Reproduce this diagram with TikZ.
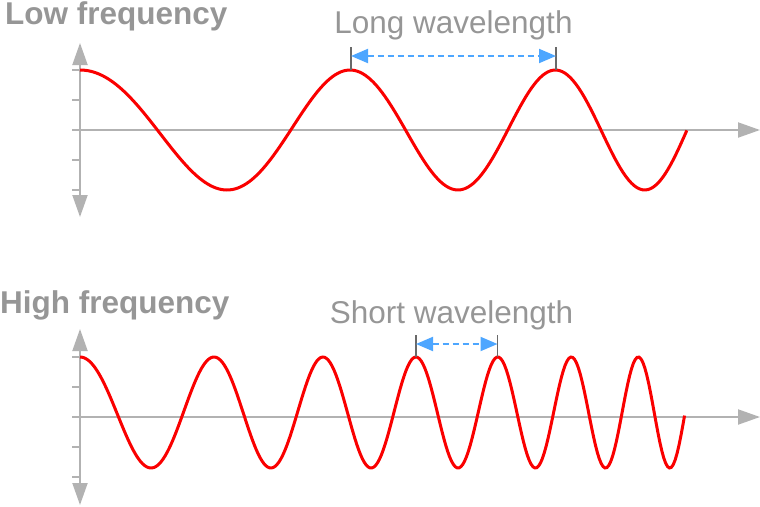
\documentclass[tikz,border=0pt]{standalone}
\usepackage{fontspec}
\setmainfont{Liberation Sans}
\usetikzlibrary{arrows.meta}
\definecolor{axisGray}{RGB}{178,178,178}
\definecolor{markGray}{RGB}{105,105,105}
\definecolor{textGray}{RGB}{150,150,150}
\definecolor{waveRed}{RGB}{250,0,0}
\definecolor{spanBlue}{RGB}{77,166,255}
\tikzset{
  axis/.style={draw=axisGray, line width=2pt, >={Triangle[length=22pt,width=15pt]}},
  tickmark/.style={draw=axisGray, line width=2pt},
  wave/.style={draw=waveRed, line width=3pt},
  marker/.style={draw=markGray, line width=1.6pt},
  span/.style={draw=spanBlue, line width=2pt, dash pattern=on 6pt off 4pt, <->, >={Triangle[length=17pt,width=14pt]}},
  title/.style={font=\fontsize{31.5}{31.5}\selectfont\bfseries, text=textGray, inner sep=0pt, anchor=base west},
  caption/.style={font=\fontsize{31.5}{31.5}\selectfont, text=textGray, inner sep=0pt, anchor=base}
}
\begin{document}
\begin{tikzpicture}[x=1pt, y=-1pt]
        \useasboundingbox (0,0) rectangle (760,506);
        % low frequency
        \node[title] (lowtitle) at (5,24) {Low frequency};
        \node[caption] (longlabel) at (453.5,33) {Long wavelength};
        \coordinate (lowup) at (80,43);
        \coordinate (lowdown) at (80,217);
        \coordinate (loworigin) at (72,130);
        \coordinate (lowright) at (760,130);
        \foreach \ty in {70,100,160,190}
          \draw[tickmark] (72,\ty) -- (80,\ty);
        \draw[axis,->] (loworigin) -- (lowright);
        \draw[axis,<->] (lowup) -- (lowdown);
        \draw[wave] plot[domain=0:6.07, samples=220] ({80+100*\x}, {130-60*cos(109.485*\x+8.8317*\x*\x)});
        \coordinate (longA) at (351,70);
        \coordinate (longAtop) at (351,47);
        \coordinate (longAmid) at (351,56);
        \coordinate (longB) at (556,70);
        \coordinate (longBtop) at (556,47);
        \coordinate (longBmid) at (556,56);
        \draw[marker] (longA) -- (longAtop);
        \draw[marker] (longB) -- (longBtop);
        \draw[span] (longAmid) -- (longBmid);
        % high frequency
        \node[title] (hightitle) at (0,313) {High frequency};
        \node[caption] (shortlabel) at (451.5,323) {Short wavelength};
        \coordinate (highup) at (80,329);
        \coordinate (highdown) at (80,505);
        \coordinate (highorigin) at (72,417);
        \coordinate (highright) at (760,417);
        \foreach \ty in {357,387,447,477}
          \draw[tickmark] (72,\ty) -- (80,\ty);
        \draw[axis,->] (highorigin) -- (highright);
        \draw[axis,<->] (highup) -- (highdown);
        \draw[wave] plot[domain=0:6.05, samples=320] ({80+100*\x}, {412.5-55.5*cos(237.04*\x+22.549*\x*\x+0.768*\x*\x*\x)});
        \coordinate (shortA) at (416,357);
        \coordinate (shortAtop) at (416,335);
        \coordinate (shortAmid) at (416,344);
        \coordinate (shortB) at (497.5,357);
        \coordinate (shortBtop) at (497.5,335);
        \coordinate (shortBmid) at (497.5,344);
        \draw[marker] (shortA) -- (shortAtop);
        \draw[marker] (shortB) -- (shortBtop);
        \draw[span] (shortAmid) -- (shortBmid);
      \end{tikzpicture}
\end{document}
